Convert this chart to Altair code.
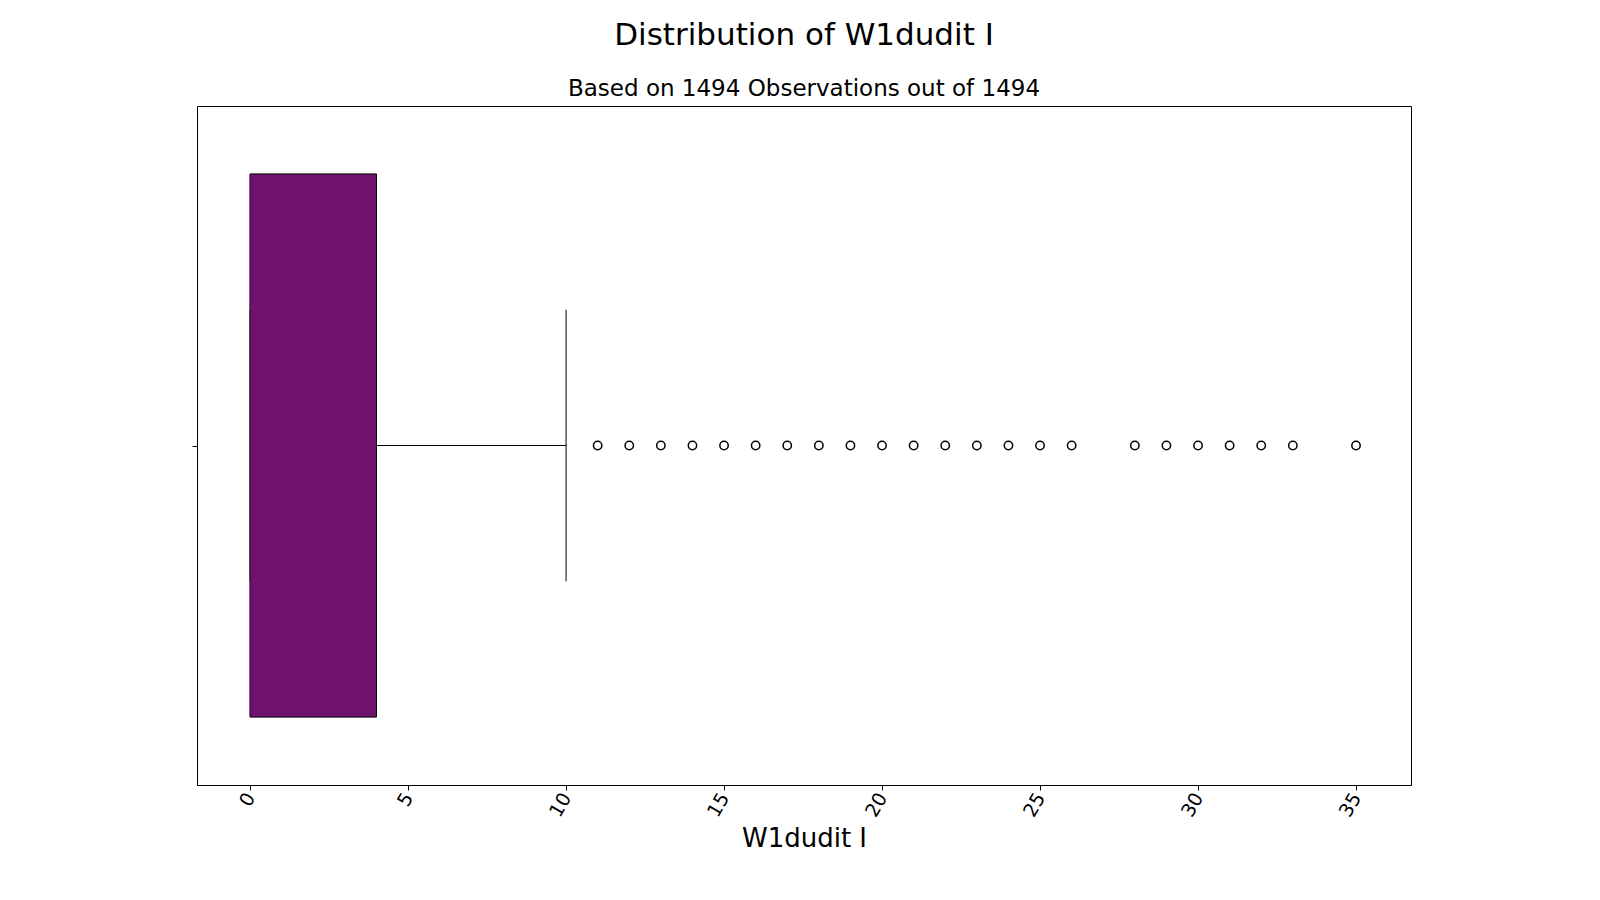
import altair as alt
import pandas as pd

q1, median, q3 = 0, 0, 4
whisker_low, whisker_high = 0, 10
outliers = [11, 12, 13, 14, 15, 16, 17, 18, 19, 20, 21, 22, 23, 24, 25, 26, 28, 29, 30, 31, 32, 33, 35]

xs = alt.Scale(domain=[-1.68, 36.74], nice=False, zero=False)
ys = alt.Scale(domain=[-0.5, 0.5], nice=False)

box_df = pd.DataFrame({"q1": [q1], "q3": [q3], "y": [-0.4], "y2": [0.4]})
whisk_df = pd.DataFrame({"x": [q3], "x2": [whisker_high], "y": [0.0]})
caps_df = pd.DataFrame({"x": [whisker_low, whisker_high], "y": [-0.2, -0.2], "y2": [0.2, 0.2]})
med_df = pd.DataFrame({"x": [median], "y": [-0.4], "y2": [0.4]})
out_df = pd.DataFrame({"v": outliers, "y": [0.0] * len(outliers)})

xaxis = alt.Axis(title="W1dudit I", values=[0, 5, 10, 15, 20, 25, 30, 35], labelAngle=-60,
                 labelFontSize=19, titleFontSize=26, titleFontWeight="normal", grid=False,
                 tickColor="black", domainColor="black", labelColor="black", labelPadding=4,
                 titleColor="black", titlePadding=6)
yaxis = alt.Axis(title=None, values=[0], labels=False, grid=False, tickColor="black", domain=False)

box = alt.Chart(box_df).mark_rect(color="#6f126c", stroke="black", strokeWidth=1).encode(
    x=alt.X("q1:Q", scale=xs, axis=xaxis), x2="q3:Q",
    y=alt.Y("y:Q", scale=ys, axis=yaxis), y2="y2:Q")
whisk = alt.Chart(whisk_df).mark_rule(color="black").encode(
    x=alt.X("x:Q", scale=xs), x2="x2:Q", y=alt.Y("y:Q", scale=ys))
caps = alt.Chart(caps_df).mark_rule(color="black").encode(
    x=alt.X("x:Q", scale=xs), y=alt.Y("y:Q", scale=ys), y2="y2:Q")
med = alt.Chart(med_df).mark_rule(color="#6f126c").encode(
    x=alt.X("x:Q", scale=xs), y=alt.Y("y:Q", scale=ys), y2="y2:Q")
pts = alt.Chart(out_df).mark_point(shape="circle", size=70, color="black", filled=False,
                                   strokeWidth=1.5, opacity=1).encode(
    x=alt.X("v:Q", scale=xs), y=alt.Y("y:Q", scale=ys))

chart = alt.layer(box, whisk, caps, med, pts).properties(
    width=1214, height=679,
    title=alt.TitleParams("Distribution of W1dudit I", subtitle="Based on 1494 Observations out of 1494",
                          fontSize=31, fontWeight="normal", subtitleFontSize=23, subtitlePadding=26,
                          font="DejaVu Sans", subtitleFont="DejaVu Sans", anchor="middle", offset=4,
                          color="black", subtitleColor="black"),
    autosize=alt.AutoSizeParams(type="none"),
    padding={"left": 189, "top": 98, "right": 150, "bottom": 80},
).configure_view(stroke="black", strokeWidth=1).configure_axis(labelFont="DejaVu Sans", titleFont="DejaVu Sans")

chart.save("out.html", embed_options={"renderer": "svg", "actions": False})
